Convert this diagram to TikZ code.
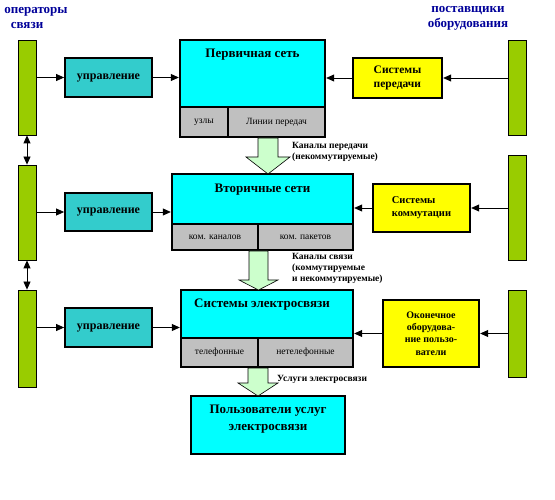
\documentclass[tikz,border=0pt]{standalone}
\usepackage{fontspec}
\setmainfont{Liberation Serif}
\usetikzlibrary{arrows.meta}

\definecolor{barGreen}{RGB}{153,204,0}
\definecolor{uprTeal}{RGB}{51,204,204}
\definecolor{netCyan}{RGB}{0,255,255}
\definecolor{cellGray}{RGB}{192,192,192}
\definecolor{sysYellow}{RGB}{255,255,0}
\definecolor{flowGreen}{RGB}{204,255,204}
\definecolor{headBlue}{RGB}{0,0,153}

\begin{document}
\begin{tikzpicture}[x=1pt,y=1pt,yscale=-1,xscale=1,
  bar/.style={draw,fill=barGreen,line width=0.8pt,inner sep=0,minimum width=18},
  uprbox/.style={draw,fill=uprTeal,line width=1.8pt,inner sep=0,font=\bfseries\fontsize{12}{14}\selectfont},
  netbox/.style={draw,fill=netCyan,line width=2.4pt,inner sep=0},
  cellbox/.style={draw,fill=cellGray,line width=2.4pt,inner sep=0,font=\fontsize{9.5}{11}\selectfont},
  sysbox/.style={draw,fill=sysYellow,line width=2.4pt,inner sep=0,font=\bfseries\fontsize{10.5}{13}\selectfont},
  title/.style={font=\bfseries\fontsize{13}{17}\selectfont,inner sep=0},
  note/.style={font=\bfseries\fontsize{9.5}{11}\selectfont,inner sep=0,align=left},
  head/.style={font=\bfseries\fontsize{13}{15}\selectfont,text=headBlue,inner sep=0},
  arr/.style={-{Triangle[length=8pt,width=7pt]},line width=0.8pt},
  darr/.style={{Triangle[length=8pt,width=7pt]}-{Triangle[length=8pt,width=7pt]},line width=0.8pt},
  flow/.style={draw,fill=flowGreen,line width=0.6pt}]
\useasboundingbox (0,0) rectangle (555,500);

% Text Node
\node[head,align=left] (hoper) at (36,18) {операторы\\\ \ связи};
% Text Node
\node[head,align=center] (hsupp) at (468,18) {поставщики\\оборудования};

% left bars
\node[bar,minimum height=95] (oper1) at (27,87.5) {};
\node[bar,minimum height=95] (oper2) at (27,212.5) {};
\node[bar,minimum height=97] (oper3) at (27,338.5) {};

% right bars
\node[bar,minimum height=95] (supp1) at (517.5,87.5) {};
\node[bar,minimum height=105] (supp2) at (517.5,207.5) {};
\node[bar,minimum height=87] (supp3) at (517.5,333.5) {};

% control boxes
\node[uprbox,minimum width=87,minimum height=39] (upr1) at (108.5,77.5) {управление};
\node[uprbox,minimum width=87,minimum height=38] (upr2) at (108.5,212) {управление};
\node[uprbox,minimum width=87,minimum height=39] (upr3) at (108.5,327.5) {управление};

% primary network
\node[netbox,minimum width=145,minimum height=67] (net1) at (252.5,73.5) {};
\node[cellbox,minimum width=48,minimum height=30] (node1) at (204,122) {узлы};
\node[cellbox,minimum width=97,minimum height=30] (line1) at (276.5,122) {Линии передач};
\node[title] (tnet1) at (252.5,55) {Первичная сеть};

% secondary networks
\node[netbox,minimum width=181,minimum height=50] (net2) at (262.5,199) {};
\node[cellbox,minimum width=86,minimum height=26] (chan2) at (215,237) {ком. каналов};
\node[cellbox,minimum width=95,minimum height=26] (pack2) at (305.5,237) {ком. пакетов};
\node[title] (tnet2) at (262.5,190) {Вторичные сети};

% telecom systems
\node[netbox,minimum width=172,minimum height=48] (net3) at (267,314) {};
\node[cellbox,minimum width=77,minimum height=29] (tel3) at (219.5,352.5) {телефонные};
\node[cellbox,minimum width=95,minimum height=29] (ntel3) at (305.5,352.5) {нетелефонные};
\node[title] (tnet3) at (262,305) {Системы электросвязи};

% users
\node[netbox,minimum width=154,minimum height=58] (users) at (268,425) {};
\node[title,align=center] (tusers) at (268,419) {Пользователи услуг\\электросвязи};

% supplier boxes
\node[sysbox,minimum width=89,minimum height=40,align=left,font=\bfseries\fontsize{11.5}{13.5}\selectfont] (sys1) at (397.5,78) {Системы\\передачи};
\node[sysbox,minimum width=97,minimum height=48,align=left] (sys2) at (421.5,208) {Системы\\коммутации};
\node[sysbox,minimum width=96,minimum height=67,align=center,font=\bfseries\fontsize{10}{12.3}\selectfont] (sys3) at (431,333.5) {Оконечное\\оборудова-\\ние пользо-\\ватели};

% operators side
\draw[arr] (oper1.east |- upr1) -- (upr1.west);
\draw[arr] (oper2.east |- upr2) -- (upr2.west);
\draw[arr] (oper3.east |- upr3) -- (upr3.west);
\draw[arr] (upr1.east) -- (upr1 -| net1.west);
\draw[arr] (upr2.east) -- (upr2 -| net2.west);
\draw[arr] (upr3.east) -- (upr3 -| net3.west);
\draw[darr] (oper1) -- (oper2);
\draw[darr] (oper2) -- (oper3);

% suppliers side
\draw[arr] (supp1.west |- sys1) -- (sys1.east);
\draw[arr] (supp2.west |- sys2) -- (sys2.east);
\draw[arr] (supp3.west |- sys3) -- (sys3.east);
\draw[arr] (sys1.west) -- (sys1 -| net1.east);
\draw[arr] (sys2.west) -- (sys2 -| net2.east);
\draw[arr] (sys3.west) -- (sys3 -| net3.east);

% flow arrows
\draw[flow] (258,138) -- (278,138) -- (278,157) -- (290,157) -- (268,174) -- (246,157) -- (258,157) -- cycle;
\draw[flow] (249,251) -- (268,251) -- (268,280) -- (278,280) -- (258.5,290) -- (239,280) -- (249,280) -- cycle;
\draw[flow] (248,368) -- (268,368) -- (268,383) -- (278,383) -- (258,396) -- (238,383) -- (248,383) -- cycle;

% Text Node
\node[note,anchor=north west] (lab1) at (292,142) {Каналы передачи\\(некоммутируемые)};
% Text Node
\node[note,anchor=north west] (lab2) at (292,253) {Каналы связи\\(коммутируемые\\и некоммутируемые)};
% Text Node
\node[note,anchor=west] (lab3) at (277,379) {Услуги электросвязи};

\end{tikzpicture}
\end{document}
